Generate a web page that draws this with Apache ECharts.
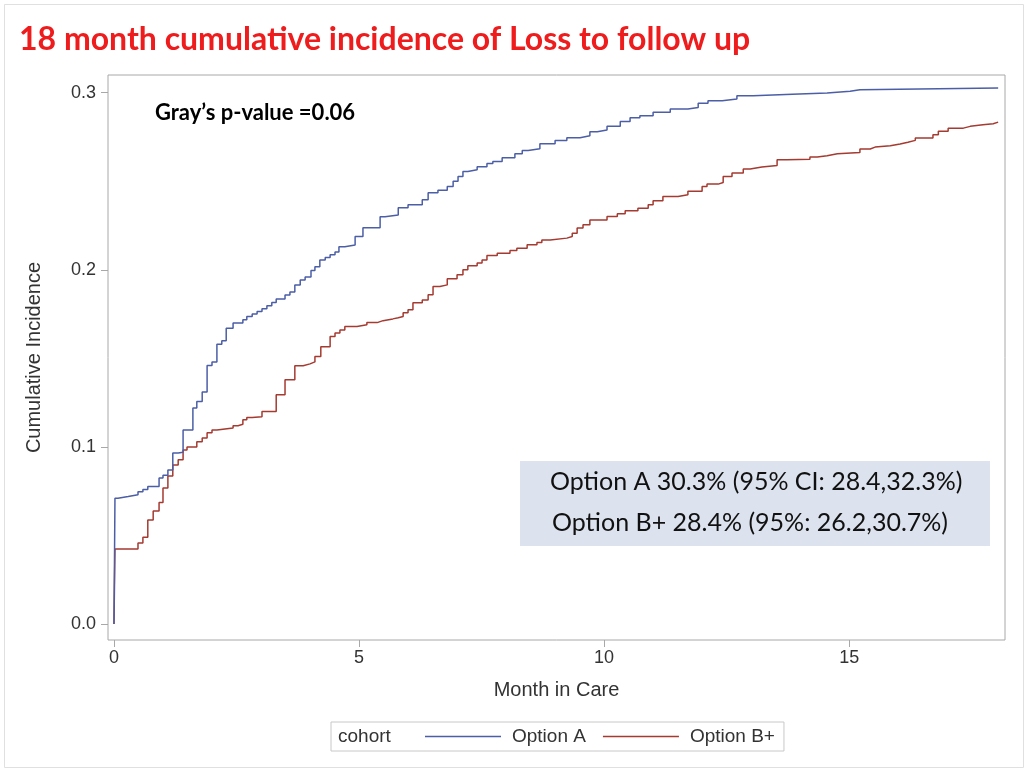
<!DOCTYPE html>
<html>
<head>
<meta charset="utf-8">
<title>18 month cumulative incidence of Loss to follow up</title>
<script src="https://cdn.jsdelivr.net/npm/echarts@6/dist/echarts.min.js"></script>
<style>
  html, body { margin: 0; padding: 0; background: #fff; }
  #main { width: 1024px; height: 768px; }
</style>
</head>
<body>
<div id="main"></div>
<script>
"use strict";

// step points: month, cumulative incidence
var monthsA = [0, 0.02, 0.08, 0.29, 0.49, 0.59, 0.69, 0.92, 1.0, 1.1, 1.2, 1.31, 1.41, 1.61, 1.69, 1.8, 1.9, 2.0, 2.1, 2.2,
  2.29, 2.43, 2.63, 2.71, 2.82, 2.92, 3.02, 3.12, 3.22, 3.31, 3.49, 3.59, 3.69, 3.8, 3.9, 4.02, 4.1, 4.2, 4.31, 4.41,
  4.51, 4.59, 4.71, 4.92, 5.08, 5.43, 5.53, 5.8, 6.0, 6.29, 6.41, 6.61, 6.8, 6.92, 7.02, 7.12, 7.22, 7.41, 7.61, 7.73,
  7.92, 8.18, 8.33, 8.45, 8.69, 9.0, 9.24, 9.51, 9.71, 9.86, 10.06, 10.33, 10.53, 10.73, 11.0, 11.35, 11.71, 11.92, 12.12, 12.41,
  12.71, 13.04, 13.84, 14.55, 15.02, 15.22, 18.04];
var incA = [0, 0.071, 0.072, 0.073, 0.0747, 0.076, 0.0776, 0.0825, 0.084, 0.087, 0.0966, 0.097, 0.1096, 0.122, 0.1256, 0.131, 0.146, 0.148, 0.158, 0.160,
  0.167, 0.170, 0.1718, 0.1736, 0.175, 0.1765, 0.178, 0.1797, 0.1816, 0.1835, 0.1858, 0.1875, 0.1915, 0.1943, 0.196, 0.1996, 0.2017, 0.2056, 0.207, 0.2085,
  0.210, 0.213, 0.214, 0.2188, 0.2237, 0.230, 0.231, 0.235, 0.2367, 0.2395, 0.2435, 0.245, 0.247, 0.250, 0.2527, 0.2555, 0.2565, 0.2582, 0.26, 0.2612,
  0.2633, 0.2655, 0.2674, 0.2684, 0.2712, 0.273, 0.2746, 0.2757, 0.278, 0.279, 0.281, 0.2838, 0.2858, 0.287, 0.2889, 0.2908, 0.2917, 0.2941, 0.2955, 0.2964,
  0.2983, 0.2992, 0.2998, 0.3008, 0.3017, 0.3026, 0.3026];

var monthsB = [0, 0.02, 0.49, 0.59, 0.69, 0.8, 0.92, 1.0, 1.1, 1.2, 1.31, 1.41, 1.49, 1.69, 1.8, 1.9, 2.0, 2.1, 2.43, 2.53,
  2.63, 2.71, 2.82, 3.02, 3.31, 3.49, 3.69, 3.86, 4.0, 4.1, 4.22, 4.41, 4.51, 4.61, 4.71, 4.96, 5.16, 5.37, 5.49, 5.69,
  5.8, 5.9, 6.0, 6.1, 6.29, 6.41, 6.51, 6.65, 6.8, 7.0, 7.12, 7.22, 7.41, 7.51, 7.61, 7.82, 8.08, 8.22, 8.43, 8.63,
  8.73, 8.9, 9.24, 9.35, 9.45, 9.57, 9.71, 10.06, 10.27, 10.43, 10.69, 10.9, 11.0, 11.2, 11.51, 11.71, 12.0, 12.1, 12.33, 12.43,
  12.61, 12.84, 12.98, 13.22, 13.53, 13.73, 14.2, 14.35, 14.55, 14.76, 15.22, 15.43, 15.53, 15.84, 16.04, 16.2, 16.35, 16.71, 16.82, 17.02,
  17.33, 17.47, 17.73, 17.94, 18.04];
var incB = [0, 0.0424, 0.0457, 0.049, 0.0588, 0.0638, 0.0686, 0.0768, 0.0836, 0.0898, 0.0927, 0.0983, 0.1, 0.103, 0.105, 0.108, 0.1096, 0.1107, 0.112, 0.1128,
  0.1153, 0.1166, 0.1171, 0.12, 0.1294, 0.1379, 0.1458, 0.1469, 0.148, 0.151, 0.1565, 0.1623, 0.1644, 0.166, 0.168, 0.169, 0.1702, 0.1713, 0.1723, 0.1729,
  0.1736, 0.1757, 0.1774, 0.1814, 0.183, 0.1859, 0.1906, 0.1915, 0.1949, 0.1972, 0.2, 0.2023, 0.2038, 0.2056, 0.2081, 0.2094, 0.2109, 0.2122, 0.2141, 0.2154,
  0.2169, 0.2179, 0.2188, 0.2207, 0.2236, 0.2254, 0.2282, 0.2301, 0.2316, 0.2333, 0.2348, 0.2367, 0.239, 0.2414, 0.2424, 0.2443, 0.247, 0.2484, 0.2493, 0.2527,
  0.2546, 0.2569, 0.258, 0.2589, 0.2621, 0.2625, 0.2637, 0.2644, 0.2655, 0.2663, 0.2682, 0.2693, 0.27, 0.271, 0.272, 0.2731, 0.2744, 0.2763, 0.2782, 0.28,
  0.281, 0.2819, 0.2825, 0.2834, 0.2834];

var xTicks = [0, 5, 10, 15];
var yTicks = [0, 0.1, 0.2, 0.3];
var seriesNames = ["Option A", "Option B+"];
var estimateLines = ["Option A 30.3% (95% CI: 28.4,32.3%)", "Option B+ 28.4% (95%: 26.2,30.7%)"];

function pairs(xs, ys) {
  var out = [];
  for (var i = 0; i < xs.length; i++) out.push([xs[i], ys[i]]);
  return out;
}

var chart = echarts.init(document.getElementById("main"));

var axisText = { fontFamily: "Liberation Sans", fontSize: 18, color: "#333" };
var nameText = { fontFamily: "Liberation Sans", fontSize: 20, color: "#333" };

chart.setOption({
  animation: false,
  backgroundColor: "#fff",
  title: {
    text: "18 month cumulative incidence of Loss to follow up",
    left: 19,
    top: 24,
    padding: 0,
    textStyle: { fontFamily: "Lato", fontWeight: "bold", fontSize: 32, color: "#ee1c1c" },
  },
  grid: {
    left: 108,
    top: 75,
    right: 19,
    bottom: 128,
    show: true,
    borderColor: "#a8a8a8",
    borderWidth: 1,
    backgroundColor: "#fff",
  },
  xAxis: {
    type: "value",
    min: -0.122,
    max: 18.18,
    name: "Month in Care",
    nameLocation: "middle",
    nameGap: 40,
    nameTextStyle: nameText,
    axisLine: { show: false, onZero: false },
    axisTick: { show: true, length: 7, lineStyle: { color: "#a8a8a8" }, customValues: xTicks },
    axisLabel: Object.assign({ margin: 9, customValues: xTicks }, axisText),
    splitLine: { show: false },
  },
  yAxis: {
    type: "value",
    min: -0.009,
    max: 0.31,
    name: "Cumulative Incidence",
    nameLocation: "middle",
    nameGap: 64,
    nameTextStyle: nameText,
    axisLine: { show: false, onZero: false },
    axisTick: { show: true, length: 7, lineStyle: { color: "#a8a8a8" }, customValues: yTicks },
    axisLabel: Object.assign({
      margin: 12,
      customValues: yTicks,
      formatter: function (v) { return v.toFixed(1); },
    }, axisText),
    splitLine: { show: false },
  },
  legend: {
    left: 331,
    top: 722,
    orient: "horizontal",
    data: seriesNames,
    icon: "rect",
    borderColor: "#c8c8c8",
    borderWidth: 1,
    padding: [5, 9, 5, 94],
    itemWidth: 76,
    itemHeight: 1.5,
    itemGap: 17,
    textStyle: { fontFamily: "Liberation Sans", fontSize: 19, color: "#333", padding: [0, 0, 0, 6] },
  },
  series: [
    {
      name: seriesNames[0],
      type: "line",
      step: "end",
      symbol: "none",
      data: pairs(monthsA, incA),
      lineStyle: { width: 1.5, color: "#4b5ea6" },
      itemStyle: { color: "#4b5ea6" },
      z: 3,
    },
    {
      name: seriesNames[1],
      type: "line",
      step: "end",
      symbol: "none",
      data: pairs(monthsB, incB),
      lineStyle: { width: 1.5, color: "#a43a30" },
      itemStyle: { color: "#a43a30" },
      z: 2,
    },
  ],
  graphic: [
    {
      type: "rect",
      left: 2,
      top: 2,
      shape: { width: 1019, height: 763 },
      style: { fill: null, stroke: "#e0e0e0", lineWidth: 1 },
      silent: true,
      z: -1,
    },
    {
      type: "text",
      left: 155,
      top: 102,
      style: { text: "Gray\u2019s p-value =0.06", fontFamily: "Lato", fontWeight: "bold", fontSize: 22, fill: "#000" },
      z: 10,
    },
    {
      type: "rect",
      left: 520,
      top: 461,
      shape: { width: 470, height: 85 },
      style: { fill: "#dce3ee" },
      z: 10,
    },
    {
      type: "text",
      left: 550,
      top: 469,
      style: { text: estimateLines[0], fontFamily: "Lato", fontSize: 25, fill: "#111" },
      z: 11,
    },
    {
      type: "text",
      left: 552,
      top: 510,
      style: { text: estimateLines[1], fontFamily: "Lato", fontSize: 25, fill: "#111" },
      z: 11,
    },
    {
      type: "text",
      left: 338,
      top: 727,
      style: { text: "cohort", fontFamily: "Liberation Sans", fontSize: 19, fill: "#333" },
      z: 10,
    },
  ],
});
</script>
</body>
</html>
